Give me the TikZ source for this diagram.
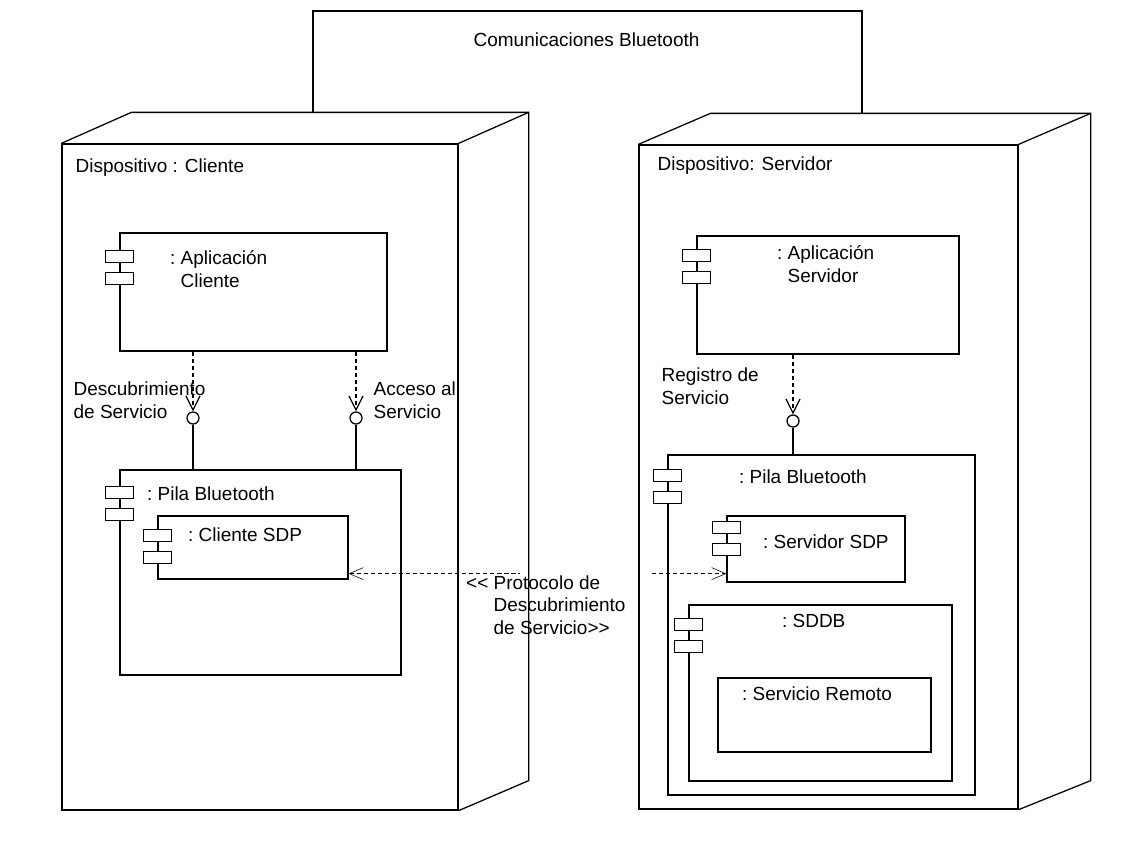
\documentclass[tikz,border=0pt]{standalone}
\usepackage{fontspec}
\setmainfont{Liberation Sans}
\usepackage{tikz}
\usetikzlibrary{arrows.meta, fit, backgrounds}

\tikzset{
  box/.style={draw, inner sep=0pt},
  lbl/.style={inner sep=0pt, align=left, anchor=base west, font=\fontsize{13.5}{15.8}\selectfont},
  iface/.style={circle, draw, fill=white, minimum size=3mm, inner sep=0pt},
  dep/.style={dash pattern=on 3pt off 2pt, -{Straight Barb[length=3.5mm, width=3.5mm]}},
  proto/.style={dash pattern=on 3pt off 2pt, {Straight Barb[length=3.5mm, width=3mm]}-{Straight Barb[length=3.5mm, width=3mm]}}
}

% component icon: two small boxes on the left edge of a node
\newcommand{\compicon}[2]{%
  \draw[fill=white] ([shift={(-14,#2)}]#1.north west) rectangle ++(28,12);
  \draw[fill=white] ([shift={(-14,#2+22)}]#1.north west) rectangle ++(28,12);
}

\begin{document}
\begin{tikzpicture}[x=0.025cm, y=-0.025cm, line width=0.9pt]
  \useasboundingbox (0,0) rectangle (1129,854);

  % link between the two devices
  \draw (313,113) |- (862,11) -- (862,114);
  \node[lbl] (com) at (473,47) {Comunicaciones Bluetooth};

  % device: cliente
  \node[box, fit={(62,144) (458,810)}] (dcli) {};
  \draw (dcli.north west) -- ++(70,-31) -| ([shift={(70,-30)}]dcli.south east) -- (dcli.south east);
  \draw (dcli.north east) -- ++(70,-31);
  \node[lbl] (tcli) at (75,172) {Dispositivo : Cliente};

  % device: servidor
  \node[box, fit={(639,145) (1018,809)}] (dsrv) {};
  \draw (dsrv.north west) -- ++(72,-31) -| ([shift={(72,-29)}]dsrv.south east) -- (dsrv.south east);
  \draw (dsrv.north east) -- ++(72,-31);
  \node[lbl] (tsrv) at (657,170) {Dispositivo: Servidor};

  % components, cliente side
  \node[box, fit={(120,233) (387,351)}] (appc) {};
  \compicon{appc}{18}
  \node[lbl] (tappc) at (180,287) {\llap{:~}Aplicación\\Cliente};

  \node[box, fit={(120,470) (401,675)}] (pilac) {};
  \compicon{pilac}{17}
  \node[lbl] (tpilac) at (157,500) {\llap{:~}Pila Bluetooth};

  \node[box, fit={(158,516) (348,579)}] (csdp) {};
  \compicon{csdp}{14}
  \node[lbl] (tcsdp) at (198,541) {\llap{:~}Cliente SDP};

  % components, servidor side
  \node[box, fit={(697,236) (959,354)}] (apps) {};
  \compicon{apps}{14}
  \node[lbl] (tapps) at (787,282) {\llap{:~}Aplicación\\Servidor};

  \node[box, fit={(668,455) (975,795)}] (pilas) {};
  \compicon{pilas}{15}
  \node[lbl] (tpilas) at (749,483) {\llap{:~}Pila Bluetooth};

  \node[box, fit={(727,516) (905,582)}] (ssdp) {};
  \compicon{ssdp}{6}
  \node[lbl] (tssdp) at (773,548) {\llap{:~}Servidor SDP};

  \node[box, fit={(689,605) (952,781)}] (sddb) {};
  \compicon{sddb}{14}
  \node[lbl] (tsddb) at (792,627) {\llap{:~}SDDB};

  \node[box, fit={(718,678) (931,752)}] (remoto) {};
  \node[lbl] (tremoto) at (752,700) {\llap{:~}Servicio Remoto};

  % provided interfaces
  \node[iface] (ifdesc) at (193,418) {};
  \node[iface] (ifacc) at (356,418) {};
  \node[iface] (ifreg) at (793,421) {};

  \draw[dep] (appc.south -| ifdesc) -- (ifdesc.north);
  \draw (ifdesc.south) -- (pilac.north -| ifdesc);
  \draw[dep] (appc.south -| ifacc) -- (ifacc.north);
  \draw (ifacc.south) -- (pilac.north -| ifacc);
  \draw[dep] (apps.south -| ifreg) -- (ifreg.north);
  \draw (ifreg.south) -- (pilas.north -| ifreg);

  \node[lbl] (tdesc) at (73,418) {Descubrimiento\\de Servicio};
  \node[lbl] (tacc) at (373,418) {Acceso al\\Servicio};
  \node[lbl] (treg) at (661,404) {Registro de\\Servicio};

  % protocolo SDP entre cliente y servidor
  \begin{scope}[on background layer]
    \draw[proto] ([shift={(0,-6)}]csdp.south east) -- ([shift={(0,-6)}]csdp.south east -| ssdp.west);
    \fill[white] (520,566) rectangle (650,580);
  \end{scope}
  \node[lbl] (tproto) at (493,634) {\llap{{<}{<}~}Protocolo de\\Descubrimiento\\de Servicio{>}{>}};
\end{tikzpicture}
\end{document}
